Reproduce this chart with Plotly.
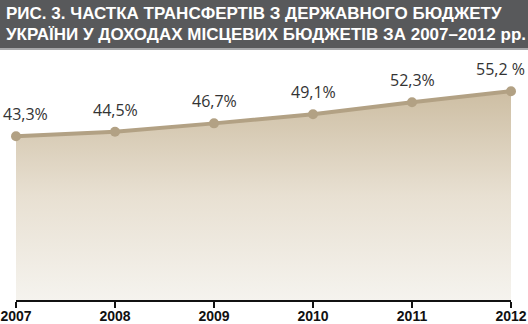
import plotly.graph_objects as go

years = [2007, 2008, 2009, 2010, 2011, 2012]
shares = [43.3, 44.5, 46.7, 49.1, 52.3, 55.2]
labels = ["43,3%", "44,5%", "46,7%", "49,1%", "52,3%", "55,2 %"]
tick_labels = ["2007", "2008", "2009", "2010", "2011", "2012"]
title_lines = ["РИС. 3. ЧАСТКА ТРАНСФЕРТІВ З ДЕРЖАВНОГО БЮДЖЕТУ",
               "УКРАЇНИ У ДОХОДАХ МІСЦЕВИХ БЮДЖЕТІВ ЗА 2007–2012 рр."]

W, H = 528, 324
ml, mr, mt, mb = 16, 17, 50, 24
pw, ph = W - ml - mr, H - mt - mb

line_col = "#b2a184"

fig = go.Figure()
fig.add_trace(go.Scatter(
    x=years, y=shares, mode="lines+markers",
    line=dict(color=line_col, width=4),
    marker=dict(color=line_col, size=10),
    fill="tozeroy",
    fillgradient=dict(type="vertical", start=0, stop=max(shares),
                      colorscale=[[0, "#f5f3ee"], [0.5, "#e8e0d2"], [1, "#cdbea3"]]),
    cliponaxis=False, hoverinfo="skip", showlegend=False,
))

xshifts = [9, 0, 0, 0, 0, -11]
for x, y, t, xs in zip(years, shares, labels, xshifts):
    fig.add_annotation(x=x, y=y, text=t, showarrow=False, xshift=xs, yshift=22,
                       font=dict(family="Open Sans", size=16, color="#333333"))

# header band
fig.add_shape(type="rect", xref="paper", yref="paper",
              x0=-ml / pw, x1=1 + mr / pw, y0=1 + 2 / ph, y1=1 + mt / ph,
              fillcolor="#58595b", line=dict(width=0), layer="above")
fig.add_shape(type="rect", xref="paper", yref="paper",
              x0=-ml / pw, x1=1 + mr / pw, y0=1 + 0 / ph, y1=1 + 2 / ph,
              fillcolor="#a7a8aa", line=dict(width=0), layer="above")
for i, line in enumerate(title_lines):
    fig.add_annotation(xref="paper", yref="paper", x=-ml / pw + 4 / pw,
                       y=1 + (mt - 13 - 22 * i) / ph, xanchor="left", yanchor="middle",
                       text="<b>" + line + "</b>", showarrow=False,
                       font=dict(family="Liberation Sans", size=17, color="white"))

fig.update_layout(
    width=W, height=H, margin=dict(l=ml, r=mr, t=mt, b=mb, autoexpand=False),
    paper_bgcolor="white", plot_bgcolor="white",
    xaxis=dict(range=[2007, 2012], tickvals=years, ticktext=["<b>" + t + "</b>" for t in tick_labels],
               automargin=False, ticklabelstandoff=-4,
               showgrid=False, zeroline=False, showline=True, linecolor="#111", linewidth=2,
               ticks="outside", ticklen=6, tickwidth=2, tickcolor="#111",
               tickfont=dict(family="Liberation Sans", size=14, color="#111")),
    yaxis=dict(range=[0, 66.1], visible=False, showgrid=False, zeroline=False, automargin=False),
)

fig.write_html("out.html")
